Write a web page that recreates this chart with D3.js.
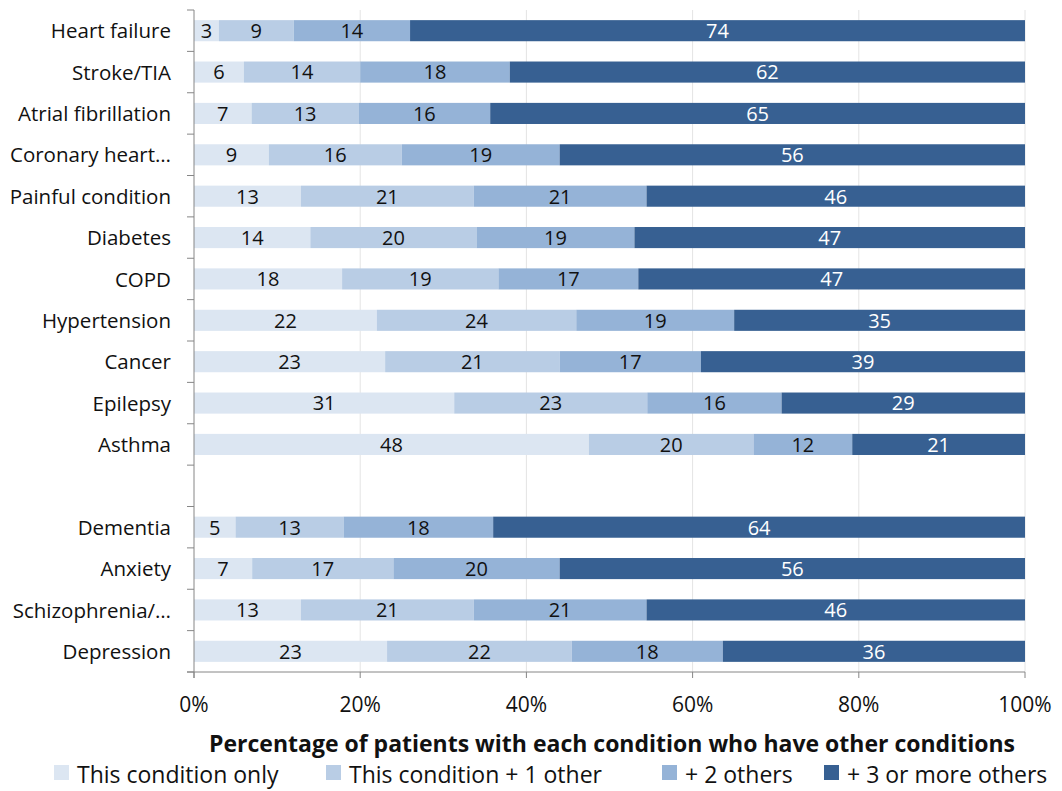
<!DOCTYPE html>
<html>
<head>
<meta charset="utf-8">
<script src="https://cdn.jsdelivr.net/npm/d3@7"></script>
<style>
  body { margin: 0; background: #fff; }
  text { font-family: "Open Sans", Lato, sans-serif; }
</style>
</head>
<body>
<svg id="chart" width="1062" height="791" viewBox="0 0 1062 791"></svg>
<script>
// categories, top to bottom ("" is the blank gap row)
const conditions = ["Heart failure", "Stroke/TIA", "Atrial fibrillation", "Coronary heart\u2026",
  "Painful condition", "Diabetes", "COPD", "Hypertension", "Cancer", "Epilepsy", "Asthma", "",
  "Dementia", "Anxiety", "Schizophrenia/\u2026", "Depression"];

const seriesNames = ["This condition only", "This condition + 1 other", "+ 2 others", "+ 3 or more others"];
const seriesKeys = ["only", "one", "two", "three"];
const seriesColors = ["#dce6f2", "#b9cde5", "#95b3d7", "#376092"];

const onlyVals  = [3, 6, 7, 9, 13, 14, 18, 22, 23, 31, 48, null, 5, 7, 13, 23];
const oneVals   = [9, 14, 13, 16, 21, 20, 19, 24, 21, 23, 20, null, 13, 17, 21, 22];
const twoVals   = [14, 18, 16, 19, 21, 19, 17, 19, 17, 16, 12, null, 18, 20, 21, 18];
const threeVals = [74, 62, 65, 56, 46, 47, 47, 35, 39, 29, 21, null, 64, 56, 46, 36];

const xTicks = [0, 0.2, 0.4, 0.6, 0.8, 1];
const xTitle = "Percentage of patients with each condition who have other conditions";

const rows = conditions.map((c, i) => ({
  name: c, only: onlyVals[i], one: oneVals[i], two: twoVals[i], three: threeVals[i]
})).filter(d => d.name !== "");

const svg = d3.select("#chart");
const plotLeft = 194, plotRight = 1025, plotTop = 10, plotBottom = 672;

const x = d3.scaleLinear().domain([0, 1]).range([plotLeft, plotRight]);
const y = d3.scaleBand().domain(conditions).range([plotTop, plotBottom])
  .paddingInner(0.49).paddingOuter(0.245);

// gridlines
svg.append("g")
  .selectAll("line")
  .data(xTicks.slice(1))
  .enter()
  .append("line")
  .attr("x1", d => x(d)).attr("x2", d => x(d))
  .attr("y1", plotTop).attr("y2", plotBottom)
  .attr("stroke", "#e4e4e4").attr("stroke-width", 1);

const stack = d3.stack().keys(seriesKeys).offset(d3.stackOffsetExpand);
const stacked = stack(rows);

const layers = svg.append("g")
  .selectAll("g")
  .data(stacked)
  .enter()
  .append("g")
  .attr("fill", (d, i) => seriesColors[i]);

layers.selectAll("rect")
  .data(d => d)
  .enter()
  .append("rect")
  .attr("x", d => x(d[0]))
  .attr("width", d => x(d[1]) - x(d[0]))
  .attr("y", d => y(d.data.name))
  .attr("height", y.bandwidth());

// data labels
layers.each(function(layer, i) {
  d3.select(this).selectAll("text")
    .data(layer)
    .enter()
    .append("text")
    .attr("x", d => (x(d[0]) + x(d[1])) / 2)
    .attr("y", d => y(d.data.name) + y.bandwidth() / 2)
    .attr("dy", "0.37em")
    .attr("text-anchor", "middle")
    .attr("font-size", 20)
    .attr("fill", i === 3 ? "#ffffff" : "#111111")
    .text(d => d.data[layer.key]);
});

// axes
const axisColor = "#868686";
svg.append("line")
  .attr("x1", plotLeft).attr("x2", plotLeft).attr("y1", plotTop).attr("y2", plotBottom + 6)
  .attr("stroke", axisColor);
svg.append("line")
  .attr("x1", plotLeft - 7).attr("x2", plotRight).attr("y1", plotBottom).attr("y2", plotBottom)
  .attr("stroke", axisColor);

// left ticks at row boundaries
const boundaries = d3.range(conditions.length + 1).map(i => plotTop + i * y.step());
svg.append("g")
  .selectAll("line")
  .data(boundaries)
  .enter()
  .append("line")
  .attr("x1", plotLeft - 7).attr("x2", plotLeft)
  .attr("y1", d => d).attr("y2", d => d)
  .attr("stroke", axisColor);

svg.append("g")
  .selectAll("text")
  .data(conditions)
  .enter()
  .append("text")
  .attr("x", 171)
  .attr("y", d => y(d) + y.bandwidth() / 2)
  .attr("dy", "0.37em")
  .attr("text-anchor", "end")
  .attr("font-size", 20.5)
  .attr("fill", "#111")
  .text(d => d);

// bottom ticks
svg.append("g")
  .selectAll("line")
  .data(xTicks)
  .enter()
  .append("line")
  .attr("x1", d => x(d)).attr("x2", d => x(d))
  .attr("y1", plotBottom).attr("y2", plotBottom + 6)
  .attr("stroke", axisColor);

svg.append("g")
  .selectAll("text")
  .data(xTicks)
  .enter()
  .append("text")
  .attr("x", d => x(d))
  .attr("y", 712)
  .attr("text-anchor", "middle")
  .attr("font-size", 21)
  .attr("fill", "#111")
  .text(d => d3.format(".0%")(d));

svg.append("text")
  .attr("x", 612)
  .attr("y", 752)
  .attr("text-anchor", "middle")
  .attr("font-size", 23)
  .attr("font-weight", "bold")
  .attr("fill", "#111")
  .text(xTitle);

// legend
const legendX = [54, 326, 662, 824];
const legend = svg.append("g")
  .selectAll("g")
  .data(seriesNames)
  .enter()
  .append("g")
  .attr("transform", (d, i) => `translate(${legendX[i]},765)`);

legend.append("rect")
  .attr("width", 15).attr("height", 15)
  .attr("fill", (d, i) => seriesColors[i]);

legend.append("text")
  .attr("x", 23)
  .attr("y", 18)
  .attr("font-size", 23)
  .attr("fill", "#111")
  .text(d => d);
</script>
</body>
</html>
